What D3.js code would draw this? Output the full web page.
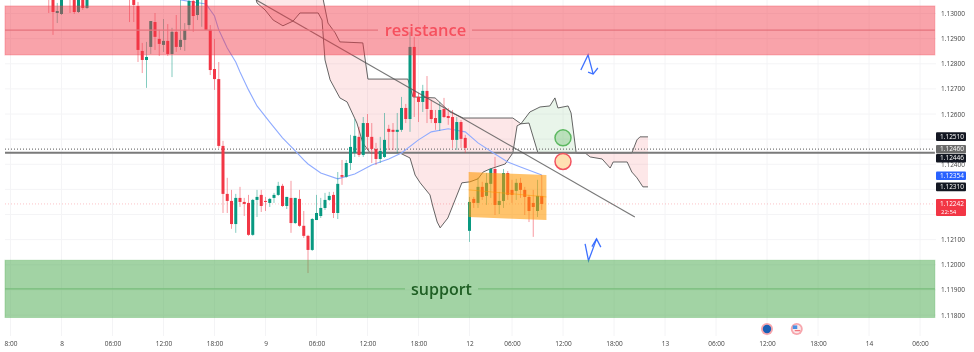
<!DOCTYPE html>
<html>
<head>
<meta charset="utf-8">
<script src="https://cdnjs.cloudflare.com/ajax/libs/d3/7.8.5/d3.min.js"></script>
<style>
  html, body { margin: 0; padding: 0; background: #fff; }
  svg { display: block; filter: blur(0.35px); }
  text { font-family: "Open Sans", sans-serif; }
</style>
</head>
<body>
<svg id="chart"></svg>
<script>
// 30 minute candles, first bar is 3 bars before the "8" tick. Bars 7-15 sit above the visible range.
const firstBar = -3;
const opens = [
  1.13078,1.13078,1.13002,1.12998,1.13102,1.13086,1.13070,1.13006,1.13070,1.13022,
  1.13100,1.13120,1.13140,1.13160,1.13150,1.13130,1.13120,1.13110,1.13100,
  1.13078,1.13070,1.13030,1.12851,1.12815,1.12867,1.12966,1.12899,1.12875,1.12891,
  1.12839,1.12927,1.12867,1.12895,1.12954,1.13050,1.12994,1.13058,1.13066,1.12935,
  1.12779,1.12739,1.12473,1.12282,1.12254,1.12162,1.12266,1.12250,1.12246,1.12119,
  1.12258,1.12278,1.12254,1.12246,1.12266,1.12278,1.12314,1.12234,1.12266,1.12166,
  1.12262,1.12155,1.12115,1.12059,1.12178,1.12194,1.12226,1.12258,1.12278,1.12206,
  1.12357,1.12350,1.12405,1.12445,1.12509,1.12437,1.12564,1.12509,1.12461,1.12421,
  1.12429,1.12541,1.12537,1.12529,1.12537,1.12624,1.12580,1.12867,1.12668,1.12648,
  1.12692,1.12616,1.12584,1.12564,1.12620,1.12592,1.12588,1.12497,1.12568,1.12505,
  1.12135,1.12262,1.12246,1.12310,1.12274,1.12322,1.12381,1.12238,1.12254,1.12365,
  1.12298,1.12294,1.12326,1.12298,1.12270,1.12246,1.12214,1.12274
];
const closes = [
  1.13066,1.13006,1.13010,1.13066,1.13078,1.13066,1.13006,1.13062,1.13022,1.13070,
  1.13120,1.13140,1.13160,1.13150,1.13130,1.13120,1.13110,1.13100,1.13090,
  1.13058,1.13034,1.12855,1.12815,1.12827,1.12970,1.12907,1.12879,1.12891,1.12839,
  1.12927,1.12867,1.12895,1.12935,1.13050,1.12990,1.13054,1.13074,1.12935,1.12775,
  1.12739,1.12473,1.12282,1.12254,1.12162,1.12266,1.12250,1.12242,1.12119,1.12258,
  1.12270,1.12234,1.12250,1.12262,1.12278,1.12314,1.12234,1.12270,1.12166,1.12266,
  1.12155,1.12115,1.12059,1.12182,1.12206,1.12226,1.12258,1.12274,1.12206,1.12322,
  1.12350,1.12405,1.12469,1.12513,1.12437,1.12564,1.12509,1.12461,1.12421,1.12453,
  1.12497,1.12529,1.12529,1.12537,1.12624,1.12580,1.12867,1.12668,1.12648,1.12692,
  1.12620,1.12580,1.12564,1.12616,1.12588,1.12584,1.12497,1.12568,1.12501,1.12465,
  1.12250,1.12246,1.12310,1.12270,1.12326,1.12381,1.12238,1.12254,1.12365,1.12278,
  1.12278,1.12326,1.12298,1.12270,1.12214,1.12230,1.12274,1.12242
];
const highs = [
  1.13086,1.13086,1.13042,1.13074,1.13110,1.13094,1.13078,1.13070,1.13078,1.13078,
  1.13140,1.13160,1.13180,1.13180,1.13170,1.13150,1.13140,1.13130,1.13120,
  1.13086,1.13078,1.13046,1.12883,1.12887,1.12970,1.13002,1.12935,1.12978,1.12958,
  1.12943,1.12994,1.13054,1.12962,1.13066,1.13066,1.13066,1.13086,1.13074,1.12954,
  1.12899,1.12807,1.12493,1.12346,1.12298,1.12282,1.12310,1.12266,1.12278,1.12262,
  1.12298,1.12298,1.12270,1.12266,1.12286,1.12330,1.12322,1.12270,1.12334,1.12266,
  1.12298,1.12214,1.12119,1.12186,1.12278,1.12266,1.12286,1.12290,1.12290,1.12369,
  1.12417,1.12417,1.12517,1.12580,1.12549,1.12588,1.12600,1.12564,1.12485,1.12509,
  1.12604,1.12557,1.12564,1.12604,1.12668,1.12640,1.12927,1.12907,1.12684,1.12716,
  1.12751,1.12656,1.12616,1.12648,1.12664,1.12624,1.12616,1.12588,1.12576,1.12517,
  1.12270,1.12270,1.12346,1.12330,1.12365,1.12385,1.12429,1.12290,1.12381,1.12373,
  1.12338,1.12342,1.12346,1.12310,1.12278,1.12298,1.12338,1.12357
];
const lows = [
  1.13002,1.12915,1.12962,1.12994,1.13066,1.13002,1.12998,1.13002,1.13014,1.13018,
  1.13090,1.13110,1.13130,1.13140,1.13120,1.13110,1.13100,1.13090,1.13080,
  1.12966,1.12966,1.12807,1.12763,1.12704,1.12839,1.12855,1.12831,1.12847,1.12831,
  1.12747,1.12847,1.12855,1.12851,1.12935,1.12927,1.12974,1.12947,1.12935,1.12755,
  1.12696,1.12465,1.12206,1.12206,1.12143,1.12127,1.12230,1.12194,1.12115,1.12115,
  1.12190,1.12210,1.12214,1.12230,1.12246,1.12274,1.12230,1.12222,1.12127,1.12162,
  1.12151,1.12107,1.11967,1.12055,1.12178,1.12186,1.12218,1.12254,1.12186,1.12182,
  1.12318,1.12346,1.12377,1.12429,1.12429,1.12429,1.12457,1.12405,1.12397,1.12405,
  1.12425,1.12457,1.12457,1.12445,1.12529,1.12564,1.12529,1.12588,1.12568,1.12608,
  1.12564,1.12564,1.12537,1.12533,1.12584,1.12557,1.12465,1.12457,1.12465,1.12445,
  1.12091,1.12226,1.12226,1.12258,1.12238,1.12266,1.12198,1.12202,1.12226,1.12258,
  1.12246,1.12258,1.12266,1.12198,1.12170,1.12111,1.12190,1.12218
];

// moving average
const maBars = [28,31,34,36,37,39,41,42,44,46,49,52,55,57,58,61,65,69,73,77,80,84,87,91,95,98,102,105,108,113];
const maPrices = [1.13054,1.13046,1.13038,1.12990,1.12935,1.12863,1.12807,1.12767,1.12696,1.12632,1.12568,1.12505,1.12453,1.12417,1.12401,1.12365,1.12342,1.12361,1.12397,1.12421,1.12445,1.12497,1.12529,1.12541,1.12529,1.12485,1.12441,1.12409,1.12389,1.12357];

// cloud spans
const spanABars = [45.5,46,47.9,49.8,52.1,54.5,56.1,60.4,61.3,62,63.2,65.5,67.2,69.5,70.9,72.6,79.6,82,83.2,84.4,86.7,87.4,88.4,89.1,90.9,92.6,94.2,96.1,98,99.2,100.8,104.4,106.2,107.2,108.1,110.2,112.6,114.9,116.1,116.8,119.2,119.9,121.1,123.2,124.4,127.2,129.1,129.8,133.1,134.2,135.4,136.8,138];
const spanAPrices = [1.13074,1.13042,1.13014,1.12974,1.12951,1.12970,1.13002,1.13002,1.12974,1.12815,1.12736,1.12664,1.12648,1.12564,1.12485,1.12445,1.12445,1.12425,1.12357,1.12326,1.12278,1.12230,1.12170,1.12147,1.12186,1.12258,1.12326,1.12330,1.12342,1.12369,1.12381,1.12401,1.12445,1.12553,1.12561,1.12608,1.12628,1.12632,1.12664,1.12624,1.12632,1.12604,1.12445,1.12445,1.12429,1.12421,1.12385,1.12409,1.12409,1.12369,1.12346,1.12310,1.12310];
const spanBBars = [45.5,53.8,61.5,62.7,64.4,65.5,70.9,72.1,81.5,82.7,87.9,91.4,94.5,106.2,108.1,110,112.1,121.1,134.2,135.4,136.1,138];
const spanBPrices = [1.13102,1.13134,1.13062,1.12962,1.12923,1.12887,1.12883,1.12739,1.12739,1.12668,1.12664,1.12608,1.12584,1.12584,1.12561,1.12564,1.12445,1.12445,1.12445,1.12497,1.12509,1.12509];
const cloudCrossBars = [108.1, 121.1];

// drawings
const zoneStartBar = -13.3;
const zoneEndBar = 205.5;
const resistanceZone = [1.1303, 1.12934, 1.12835];
const supportZone = [1.12018, 1.11904, 1.1179];
const trendBars = [45.8, 134.9];
const trendPrices = [1.13054, 1.1219];
const boxBars = [95.8, 114.1];
const boxTop = [1.12369, 1.12357];
const boxMid = [1.12298, 1.12270];
const boxBottom = [1.12190, 1.12178];
const sellArrowBars = [122.2, 123.9, 125.1];
const sellArrowPrices = [1.12775, 1.12835, 1.12759];
const sellHeadBars = [123.9, 125.1, 126.2];
const sellHeadPrices = [1.12767, 1.12759, 1.12783];
const buyArrowBars = [123.2, 124, 125.9];
const buyArrowPrices = [1.12083, 1.12016, 1.12103];
const buyHeadBars = [124.8, 125.9, 126.9];
const buyHeadPrices = [1.12072, 1.12103, 1.12070];
const markerBar = 118;
const greenMarkerPrice = 1.12505;
const redMarkerPrice = 1.12411;

// axes (the 1.125, 1.123 and 1.122 ticks are hidden behind price tags)
const timeTickBars = [-12,0,12,24,36,48,60,72,84,96,106,118,130,142,154,166,178,190,202];
const timeTickLabels = ["8:00","8","06:00","12:00","18:00","9","06:00","12:00","18:00","12","06:00","12:00","18:00","13","06:00","12:00","18:00","14","06:00"];
const gridPrices = [1.13,1.129,1.128,1.127,1.126,1.125,1.124,1.123,1.122,1.121,1.12,1.119,1.118];
const priceTicks = [1.13,1.129,1.128,1.127,1.126,1.124,1.121,1.12,1.119,1.118];

// price tags on the right
const tagPrices = [1.1251, 1.1246, 1.12446, 1.12354, 1.1231];
const tagLabels = ["1.12510", "1.12460", "1.12446", "1.12354", "1.12310"];
const tagColors = ["#131722", "#6a6a6a", "#131722", "#2962ff", "#131722"];
const tagNudge = [0, 0, 5.5, 0, 0];
const lastPrice = 1.12242;
const lastLabel = "1.12242";
const countdownLabel = "22:54";
const dottedPrice = 1.1246;
const thickPrice = 1.12446;
const eventBars = [166, 173];

const W = 974, H = 352;
const x = d3.scaleLinear().domain([0, 190]).range([61.5, 869]);
const y = d3.scaleLinear().domain([1.118, 1.13]).range([315, 13.5]);

const up = "#089981", down = "#f23645";

const svg = d3.select("#chart").attr("width", W).attr("height", H).attr("viewBox", `0 0 ${W} ${H}`);

svg.append("defs").append("clipPath").attr("id", "pane")
  .append("rect").attr("x", 5).attr("y", 0).attr("width", x(zoneEndBar) - 5).attr("height", 336);

// grid
const grid = svg.append("g").attr("stroke", "#f4f4f6").attr("stroke-width", 1);
grid.selectAll(".vg").data(timeTickBars).join("line").attr("class", "vg")
  .attr("x1", (d) => x(d)).attr("x2", (d) => x(d)).attr("y1", 0).attr("y2", 336);
grid.selectAll(".hg").data(gridPrices).join("line").attr("class", "hg")
  .attr("x1", 5).attr("x2", 936).attr("y1", (d) => y(d)).attr("y2", (d) => y(d));

// zones
function drawZone(levels, color, opacity) {
  svg.append("rect")
    .attr("x", x(zoneStartBar)).attr("width", x(zoneEndBar) - x(zoneStartBar))
    .attr("y", y(levels[0])).attr("height", y(levels[2]) - y(levels[0]))
    .attr("fill", color).attr("fill-opacity", opacity)
    .attr("stroke", color).attr("stroke-opacity", 0.3);
}
const pane = svg.append("g").attr("clip-path", "url(#pane)");

drawZone(resistanceZone, "#f23645", 0.46);
drawZone(supportZone, "#45a849", 0.5);

// zone mid lines, broken around the label like a text-on-line drawing
function midLine(price, color, gapFrom, gapTo) {
  [[x(zoneStartBar), gapFrom], [gapTo, x(zoneEndBar)]].forEach(([a, b]) => {
    svg.append("line").attr("x1", a).attr("x2", b).attr("y1", y(price)).attr("y2", y(price))
      .attr("stroke", color).attr("stroke-width", 1.2);
  });
}
midLine(resistanceZone[1], "#e5737c", 378, 472);
midLine(supportZone[1], "#78bd7b", 405, 478);

// cloud
const pts = (bars, prices) => bars.map((b, i) => [b, prices[i]]);
const spanA = pts(spanABars, spanAPrices);
const spanB = pts(spanBBars, spanBPrices);
const line = d3.line().x((d) => x(d[0])).y((d) => y(d[1]));
const cuts = [spanABars[0], ...cloudCrossBars, spanABars[spanABars.length - 1]];
const cloudFill = ["#f23645", "#4caf50", "#f23645"];
cloudFill.forEach((c, k) => {
  const inCut = (p) => p[0] >= cuts[k] && p[0] <= cuts[k + 1];
  const poly = spanA.filter(inCut).concat(spanB.filter(inCut).reverse());
  pane.append("path").attr("d", line(poly) + "Z").attr("fill", c).attr("fill-opacity", 0.12);
});
[spanA, spanB].forEach((s) => {
  pane.append("path").attr("d", line(s)).attr("fill", "none")
    .attr("stroke", "#4a4a4a").attr("stroke-opacity", 0.85).attr("stroke-width", 1);
});

// horizontal levels
const level = (price, color, w, dash) =>
  pane.append("line").attr("x1", 5).attr("x2", x(zoneEndBar))
    .attr("y1", y(price)).attr("y2", y(price))
    .attr("stroke", color).attr("stroke-width", w).attr("stroke-dasharray", dash);
level(lastPrice, "#f23645", 1, "1 2").attr("stroke-opacity", 0.3);
level(dottedPrice, "#777", 1.2, "1 2");
level(thickPrice, "#7a7a7a", 2, null);

// moving average
pane.append("path").attr("d", line(pts(maBars, maPrices))).attr("fill", "none")
  .attr("stroke", "#8fabff").attr("stroke-width", 1.1);

// candles
const bars = opens.map((o, i) => ({ i: firstBar + i, o, c: closes[i], h: highs[i], l: lows[i] }));
const candle = pane.append("g").selectAll("g").data(bars).join("g")
  .attr("stroke-width", 1)
  .attr("fill", (d) => (d.c >= d.o ? up : down))
  .attr("stroke", (d) => (d.c >= d.o ? up : down));
candle.append("line")
  .attr("x1", (d) => x(d.i)).attr("x2", (d) => x(d.i))
  .attr("y1", (d) => y(d.h)).attr("y2", (d) => y(d.l))
  .attr("stroke-opacity", 0.5);
candle.append("rect")
  .attr("x", (d) => x(d.i) - 1.5).attr("width", 3)
  .attr("y", (d) => y(Math.max(d.o, d.c)))
  .attr("height", (d) => Math.max(1, Math.abs(y(d.o) - y(d.c))))
  .attr("stroke", "none");

// trend line
pane.append("path").attr("d", line(pts(trendBars, trendPrices))).attr("fill", "none")
  .attr("stroke", "#555").attr("stroke-opacity", 0.8).attr("stroke-width", 1.1);

// orange channel box
const boxPoly = [[boxBars[0], boxTop[0]], [boxBars[1], boxTop[1]], [boxBars[1], boxBottom[1]], [boxBars[0], boxBottom[0]]];
pane.append("path").attr("d", line(boxPoly) + "Z").attr("fill", "#ff9800").attr("fill-opacity", 0.58);
pane.append("path").attr("d", line([[boxBars[0], boxMid[0]], [boxBars[1], boxMid[1]]]))
  .attr("stroke", "#ff9800").attr("stroke-opacity", 0.5);

// circles
pane.append("circle").attr("cx", x(markerBar)).attr("cy", y(greenMarkerPrice)).attr("r", 8)
  .attr("fill", "#4caf50").attr("fill-opacity", 0.3).attr("stroke", "#5cb860").attr("stroke-width", 1.5);
pane.append("circle").attr("cx", x(markerBar)).attr("cy", y(redMarkerPrice)).attr("r", 8)
  .attr("fill", "#ffe0b2").attr("stroke", "#f2525f").attr("stroke-width", 1.5);

// blue arrows
[[sellArrowBars, sellArrowPrices], [sellHeadBars, sellHeadPrices], [buyArrowBars, buyArrowPrices], [buyHeadBars, buyHeadPrices]]
  .forEach(([b, p]) => {
    pane.append("path").attr("d", line(pts(b, p))).attr("fill", "none")
      .attr("stroke", "#2962ff").attr("stroke-opacity", 0.9).attr("stroke-width", 1.3);
  });

// zone labels
svg.append("text").attr("x", 425.5).attr("y", 30).attr("dy", "0.35em").attr("text-anchor", "middle")
  .attr("font-size", 16.5).attr("font-weight", 600).attr("fill", "#f6505e").text("resistance");
svg.append("text").attr("x", 441.5).attr("y", 289).attr("dy", "0.35em").attr("text-anchor", "middle")
  .attr("font-size", 16).attr("font-weight", 600).attr("fill", "#1f5f24").text("support");

// axes
const timeAxis = svg.append("g").attr("transform", "translate(0,341)")
  .call(d3.axisBottom(x).tickValues(timeTickBars).tickFormat((d, i) => timeTickLabels[i]).tickSize(0).tickPadding(0));
timeAxis.select(".domain").remove();
timeAxis.selectAll("text").attr("font-size", 6.5).attr("fill", "#444").attr("dy", "0.35em").attr("y", 2.5);

const priceAxis = svg.append("g").attr("transform", "translate(941,0)")
  .call(d3.axisRight(y).tickValues(priceTicks).tickFormat(d3.format(".5f")).tickSize(0).tickPadding(0));
priceAxis.select(".domain").remove();
priceAxis.selectAll("text").attr("font-size", 6.5).attr("fill", "#444");

// tags
const tags = svg.append("g").selectAll("g").data(tagPrices).join("g");
tags.append("rect").attr("x", 936).attr("width", 30).attr("height", 8.6).attr("rx", 1)
  .attr("y", (d, i) => y(d) + tagNudge[i] - 4.3).attr("fill", (d, i) => tagColors[i]);
tags.append("text").attr("x", 952).attr("text-anchor", "middle").attr("font-size", 6.5).attr("fill", "#fff")
  .attr("y", (d, i) => y(d) + tagNudge[i]).attr("dy", "0.35em").text((d, i) => tagLabels[i]);

svg.append("rect").attr("x", 936).attr("width", 30).attr("y", y(lastPrice) - 5).attr("height", 17)
  .attr("rx", 1).attr("fill", down);
svg.append("text").attr("x", 952).attr("y", y(lastPrice)).attr("dy", "0.35em").attr("text-anchor", "middle")
  .attr("font-size", 6.5).attr("fill", "#fff").text(lastLabel);
svg.append("text").attr("x", 941).attr("y", y(lastPrice) + 8).attr("dy", "0.35em")
  .attr("font-size", 6).attr("fill", "#fff").text(countdownLabel);

// economic event icons under the pane
eventBars.forEach((b, k) => {
  const cx = x(b), cy = 329;
  svg.append("circle").attr("cx", cx).attr("cy", cy).attr("r", 6).attr("fill", "#f7a6ad");
  if (k === 0) {
    svg.append("circle").attr("cx", cx).attr("cy", cy).attr("r", 4.2).attr("fill", "#1a5fb4");
  } else {
    svg.append("circle").attr("cx", cx).attr("cy", cy).attr("r", 4.2).attr("fill", "#fbe9ea");
    svg.append("rect").attr("x", cx - 4).attr("y", cy - 3.6).attr("width", 4.5).attr("height", 3.6).attr("fill", "#4a90e2");
    svg.append("rect").attr("x", cx - 2).attr("y", cy + 1.2).attr("width", 5.5).attr("height", 1).attr("fill", "#ef5b66");
  }
});
</script>
</body>
</html>
